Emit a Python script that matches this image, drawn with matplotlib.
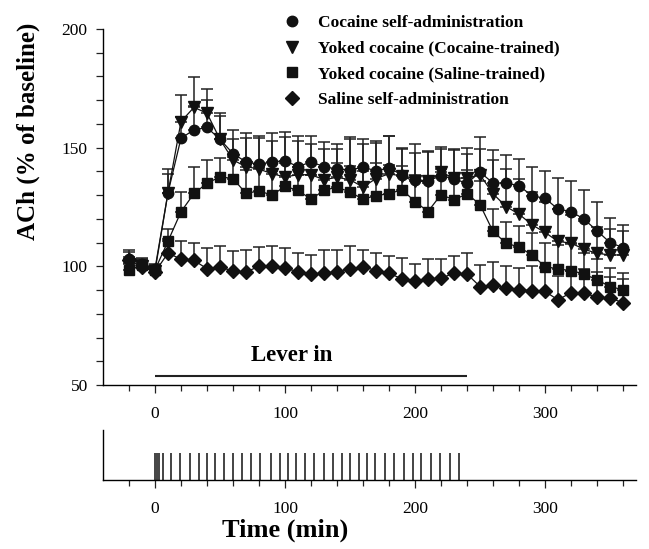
import numpy as np
import matplotlib
matplotlib.use("Agg")
import matplotlib.pyplot as plt
from matplotlib.lines import Line2D

plt.rcParams['font.family'] = ['Liberation Serif', 'DejaVu Serif']

time = list(range(-20, 361, 10))

cocaine_sa = [103, 101, 99, 131, 154, 157.5, 158.5, 153.5, 147.5, 144, 143, 144, 144.5,
              142, 144, 142, 141, 140.7, 141.7, 140.3, 141.4, 138.6, 136.5, 136, 138.2,
              136.8, 135, 139.7, 135.1, 135.1, 134, 129.7, 128.7, 124.1, 123.1, 119.9,
              115, 110, 107.9]
cocaine_sa_sem = [3, 2, 2, 8, 9, 10, 11.5, 11, 10, 12, 12, 12, 12, 13, 11, 10.5, 10.5, 14,
                  12, 12.5, 13.4, 11, 15, 12, 12, 12.6, 15, 14.8, 13.8, 11.7, 11.3, 12,
                  11.3, 13, 13, 12.4, 11.9, 10.3, 9.6]

yoked_coc = [101, 100, 98, 131, 161, 167, 164.5, 153.5, 144.8, 142, 141, 139, 137.7,
             138.6, 138.6, 136.5, 137.5, 136.5, 133.4, 137, 139, 138, 135.8, 135.8, 139.6,
             137.2, 137.2, 138.6, 130.6, 125.2, 122, 117.5, 114.3, 110.5, 109.8, 107.2,
             105.5, 104.8, 104.8]
yoked_coc_sem = [3, 2, 2, 10, 11, 12.7, 10.3, 10, 9, 12, 13, 14, 17, 14, 13, 13, 12, 17,
                 18, 15, 15.8, 12, 12, 12.7, 10, 12, 10, 11, 14, 15.8, 15, 14, 13, 13.5,
                 12, 12, 11, 11, 10]

yoked_sal = [98.5, 100.5, 98.5, 110.6, 123, 130.7, 135, 137.7, 137, 130.7, 131.8, 130,
             133.7, 132, 128.3, 132, 133.4, 131.3, 128.3, 129.8, 130.6, 132.3, 127.3,
             123.1, 130.2, 128, 130.6, 126, 114.7, 109.8, 108.1, 104.8, 99.9, 98.9, 98.2,
             96.8, 94.3, 91.5, 90.1]
yoked_sal_sem = [3, 3, 2, 5, 8.4, 11.3, 10, 8, 9, 10, 10, 10, 10, 10, 10, 10, 10, 11, 12,
                 13.7, 12, 10, 11, 12, 11, 10, 10, 10, 9.3, 8.7, 8.9, 9.2, 10, 10, 11, 9,
                 9, 8, 7]

saline_sa = [102.8, 99.7, 97.6, 105.6, 103, 102.5, 99, 99.7, 98, 97.6, 100, 100, 99.2,
             97.8, 96.8, 97.1, 97.8, 98.9, 99.9, 98.2, 97.1, 94.7, 94, 94.7, 95, 97.1,
             96.8, 91.5, 92.2, 90.8, 90.1, 89.8, 89.4, 85.9, 88.9, 88.7, 87, 86.6, 84.7]
saline_sa_sem = [4, 3, 2, 6, 7.6, 7.5, 8.7, 8.8, 8.5, 9.2, 8, 8.6, 8.5, 8, 8, 9.9, 8.9,
                 9.5, 7.1, 7.3, 7.3, 8.7, 6.9, 8.3, 8, 7.3, 9, 9.1, 9.8, 9.5, 9.4, 10.5,
                 9.8, 10, 9, 10, 10.5, 9, 10]

infusions = [0.25, 1.5, 3.1, 6.2, 12, 19.2, 26.9, 33.8, 40.3, 46.2, 53.1, 60.3, 67.2,
             73.6, 80.5, 89, 96.2, 102.6, 108.7, 115.4, 122, 130, 137.2, 143.5, 150.3,
             156.7, 163, 169.1, 177.1, 183.8, 191.5, 198.3, 204.4, 212.3, 219.1, 226.9,
             233.8]

labels = ["Cocaine self-administration", "Yoked cocaine (Cocaine-trained)",
          "Yoked cocaine (Saline-trained)", "Saline self-administration"]
series = [cocaine_sa, yoked_coc, yoked_sal, saline_sa]
sems = [cocaine_sa_sem, yoked_coc_sem, yoked_sal_sem, saline_sa_sem]
markers = ['o', 'v', 's', 'D']
msizes = [7.5, 8.5, 6.5, 7]

W, H = 649, 549
fig = plt.figure(figsize=(W / 100, H / 100), dpi=100)

L, R = 103, 636
ax = fig.add_axes([L / W, 1 - 385 / H, (R - L) / W, (385 - 29) / H])
ax2 = fig.add_axes([L / W, 1 - 480 / H, (R - L) / W, (480 - 430) / H])

xlim = (-40, 370)

for vals, err, m, ms in reversed(list(zip(series, sems, markers, msizes))):
    ax.errorbar(time, vals, yerr=[np.zeros(len(err)), err], fmt='none', ecolor='#222222',
                elinewidth=1.1, capsize=4.2, capthick=1.1, zorder=2)
    ax.plot(time, vals, color='#111111', lw=0.9, marker=m, ms=ms, mfc='#111111',
            mec='#111111', zorder=3)

ax.set_xlim(*xlim)
ax.set_ylim(50, 200)
ax.set_yticks([50, 100, 150, 200])
ax.set_yticks(np.arange(50, 201, 10), minor=True)
ax.set_xticks([0, 100, 200, 300])
ax.set_xticks(np.arange(-20, 361, 20), minor=True)
for a in (ax, ax2):
    a.spines['top'].set_visible(False)
    a.spines['right'].set_visible(False)
    a.spines['left'].set_linewidth(1.0)
    a.spines['bottom'].set_linewidth(1.0)
    a.tick_params(axis='both', which='both', direction='out', width=0.9,
                  labelsize=12.5, color='#222222')
    a.tick_params(axis='x', which='major', length=6, pad=9)
    a.tick_params(axis='x', which='minor', length=4)
ax.tick_params(axis='y', which='both', length=5, pad=6)

fig.text(28 / W, 1 - 131 / H, "ACh (% of baseline)", rotation=90, ha='center',
         va='center', fontsize=18, fontweight='bold')

# Lever in bar
ax.plot([0, 240], [53.8, 53.8], color='#222222', lw=1.5, solid_capstyle='butt')
ax.text(105, 62.5, "Lever in", ha='center', va='center', fontsize=16.5,
        fontweight='bold')

# legend
handles = [Line2D([], [], linestyle='none', marker=m, ms=ms, color='#111111')
           for m, ms in zip(markers, msizes)]
leg = ax.legend(handles, labels, loc='upper left', bbox_to_anchor=(276 / W, 1 - 8 / H),
                bbox_transform=fig.transFigure, frameon=False, handlelength=1.0,
                handletextpad=1.0, labelspacing=0.55, borderaxespad=0,
                prop={'family': 'Liberation Serif', 'weight': 'bold', 'size': 12.5})

# bottom panel
ax2.set_xlim(*xlim)
ax2.set_ylim(0, 1)
ax2.vlines(infusions, 0, 0.54, color='#111111', lw=1.1)
ax2.set_yticks([])
ax2.set_xticks([0, 100, 200, 300])
ax2.set_xticks(np.arange(-20, 361, 20), minor=True)
ax2.text(100, -1.0, "Time (min)", ha='center', va='center', fontsize=19,
         fontweight='bold', transform=ax2.get_xaxis_transform())

fig.savefig("out.png", dpi=100)
